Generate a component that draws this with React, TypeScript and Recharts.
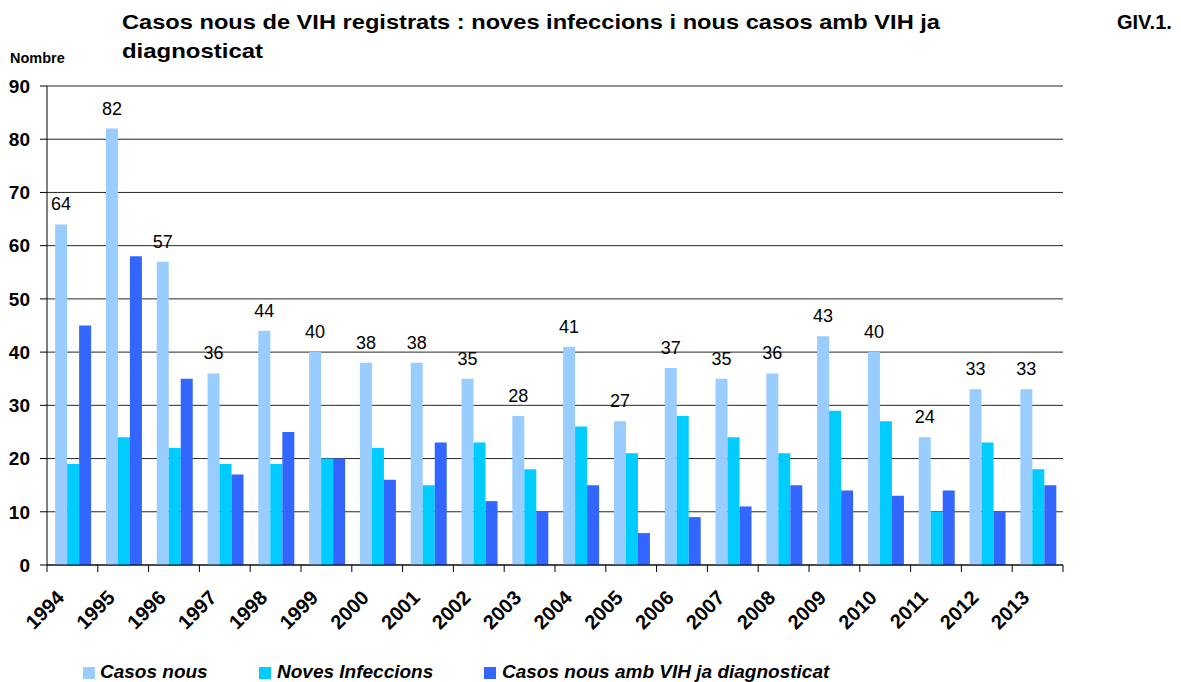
import React from "react";
import {BarChart, Bar, XAxis, YAxis, CartesianGrid, LabelList} from "recharts";

const years = ["1994", "1995", "1996", "1997", "1998", "1999", "2000", "2001", "2002", "2003",
    "2004", "2005", "2006", "2007", "2008", "2009", "2010", "2011", "2012", "2013"];
const casosNous = [64, 82, 57, 36, 44, 40, 38, 38, 35, 28, 41, 27, 37, 35, 36, 43, 40, 24, 33, 33];
const novesInfeccions = [19, 24, 22, 19, 19, 20, 22, 15, 23, 18, 26, 21, 28, 24, 21, 29, 27, 10, 23, 18];
const jaDiagnosticat = [45, 58, 35, 17, 25, 20, 16, 23, 12, 10, 15, 6, 9, 11, 15, 14, 13, 14, 10, 15];
const yTicks = [0, 10, 20, 30, 40, 50, 60, 70, 80, 90];

const series = [
    {key: "casosNous", name: "Casos nous", color: "#99CCFF"},
    {key: "novesInfeccions", name: "Noves Infeccions", color: "#00CCFF"},
    {key: "jaDiagnosticat", name: "Casos nous amb VIH ja diagnosticat", color: "#3366FF"},
];

const data = years.map((year, i) => ({
    year,
    casosNous: casosNous[i],
    novesInfeccions: novesInfeccions[i],
    jaDiagnosticat: jaDiagnosticat[i],
}));

const FONT = '"Liberation Sans", Arial, sans-serif';

// tick marks sit on the category boundaries, labels are rotated under the centre
function YearTick({x, y, payload, index, width, visibleTicksCount}: any) {
    const half = payload.offset ?? width / visibleTicksCount / 2;
    const last = index === visibleTicksCount - 1;
    return (
        <g>
            <line x1={x - half} x2={x - half} y1={y} y2={y + 7} stroke="#000"/>
            {last && <line x1={x + half} x2={x + half} y1={y} y2={y + 7} stroke="#000"/>}
            <g transform={`translate(${x - 7},${y + 34})`}>
                <text textAnchor="end" transform="rotate(-45)" fontSize={20} fontWeight="bold"
                      fontFamily={FONT} fill="#000">
                    {payload.value}
                </text>
            </g>
        </g>
    );
}

const legendPos = [
    {box: 83, text: 100},
    {box: 259, text: 277},
    {box: 484, text: 502},
];

export default function App() {
    return (
        <div style={{position: "relative", width: 1181, height: 682, fontFamily: FONT}}>
            <style>{"body{margin:0}"}</style>
            <BarChart width={1181} height={682} data={data}
                      margin={{top: 86, right: 118, bottom: 87, left: 0}}
                      barCategoryGap="16%" barGap={0}>
                <CartesianGrid vertical={false} stroke="#000" strokeOpacity={0.85}/>
                <XAxis dataKey="year" interval={0} height={30} tick={<YearTick/>}
                       tickLine={false} tickSize={0} tickMargin={0} stroke="#000"/>
                <YAxis domain={[0, 90]} ticks={yTicks} width={47} tickSize={7} tickMargin={10}
                       stroke="#000"
                       tick={{fontSize: 19, fontWeight: "bold", fill: "#000", fontFamily: FONT}}/>
                <YAxis yAxisId="r" orientation="right" domain={[0, 90]} width={0}
                       tick={false} tickLine={false} stroke="#888"/>
                {series.map((s) => (
                    <Bar key={s.key} dataKey={s.key} name={s.name} fill={s.color}
                         isAnimationActive={false}>
                        {s.key === "casosNous" && (
                            <LabelList dataKey={s.key} position="top" offset={14}
                                       fontSize={18} fill="#000" fontFamily={FONT}/>
                        )}
                    </Bar>
                ))}
            </BarChart>
            <svg width={1181} height={682}
                 style={{position: "absolute", left: 0, top: 0, pointerEvents: "none"}}>
                <text x={122} y={29} fontSize={20.5} fontWeight="bold" fontFamily={FONT}
                      textLength={818} lengthAdjust="spacingAndGlyphs">
                    Casos nous de VIH registrats : noves infeccions i nous casos amb VIH ja
                </text>
                <text x={122} y={58} fontSize={20.5} fontWeight="bold" fontFamily={FONT}
                      textLength={141} lengthAdjust="spacingAndGlyphs">
                    diagnosticat
                </text>
                <text x={1117} y={29} fontSize={20} fontWeight="bold" fontFamily={FONT}>
                    GIV.1.
                </text>
                <text x={10} y={63} fontSize={14.5} fontWeight="bold" fontFamily={FONT}>
                    Nombre
                </text>
                {series.map((s, i) => (
                    <g key={s.key}>
                        <rect x={legendPos[i].box} y={667} width={12} height={12} fill={s.color}/>
                        <text x={legendPos[i].text} y={678} fontSize={19} fontWeight="bold"
                              fontStyle="italic" fontFamily={FONT}>
                            {s.name}
                        </text>
                    </g>
                ))}
            </svg>
        </div>
    );
}
